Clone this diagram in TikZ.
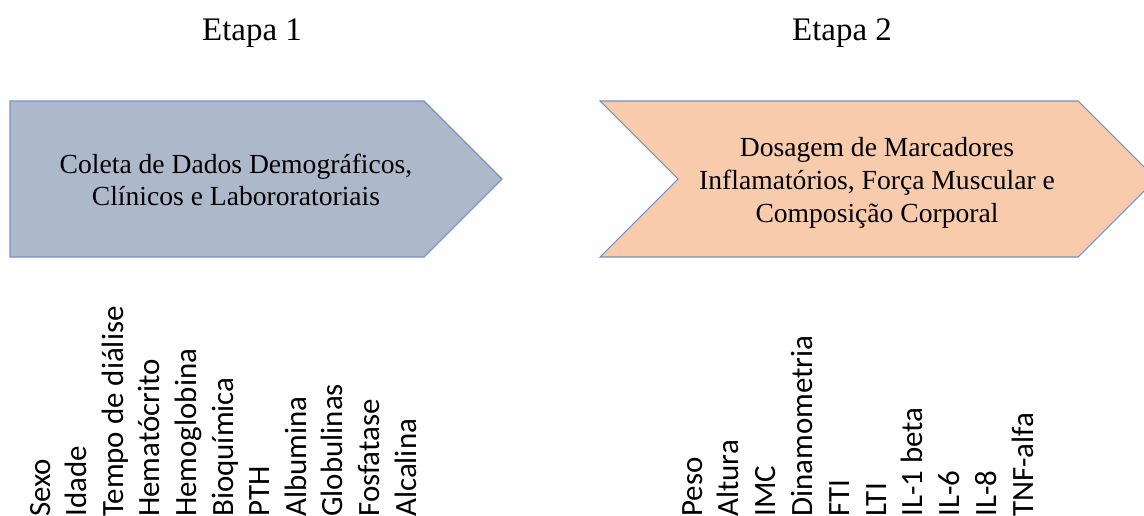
\documentclass[tikz,border=0pt]{standalone}
\usepackage{fontspec}
\setmainfont{Liberation Serif}
\newfontfamily\labelfont{Carlito}
\usetikzlibrary{positioning}

\definecolor{stepblue}{HTML}{ADB9CA}
\definecolor{steporange}{HTML}{F8CBAD}
\definecolor{stepedge}{HTML}{7391C4}

\newcommand{\Tip}{78}
\newcommand{\StepLeft}{36.6}
\newcommand{\StepRight}{36.8}

\begin{document}
\begin{tikzpicture}[
  x = 0.75pt, y = -0.75pt,
  chevron/.style={draw=stepedge, line width=0.8pt, line join=miter},
  title/.style={font=\fontsize{24.7}{28}\selectfont, anchor=base},
  boxtext/.style={font=\fontsize{20.7}{24.5}\selectfont, align=center},
  item/.style={font=\labelfont\fontsize{23.2}{26}\selectfont, rotate=90, anchor=base west, inner sep=0pt}
  ]
	\useasboundingbox (0,0) rectangle (1144,515);

	%titles of the two stages
	\node[title] (etapa1) at (252,40) {Etapa 1};
	\node[title] (etapa2) at (842,40) {Etapa 2};

	%draw the first step (pentagon)
	\draw[chevron, fill=stepblue] (10,101) -- (424,101) -- (424+\Tip,179) -- (424,257) -- (10,257) -- cycle;
	\node[boxtext] (coleta) at (236,180) {Coleta de Dados Demográficos,\\Clínicos e Labororatoriais};

	%draw the second step (chevron)
	\draw[chevron, fill=steporange] (600,101) -- (1078,101) -- (1078+\Tip,179) -- (1078,257) -- (600,257) -- (600+\Tip,179) -- cycle;
	\node[boxtext] (dosagem) at (877,183) {Dosagem de Marcadores\\Inflamatórios, Força Muscular e\\Composição Corporal};

	%variables of the first step
	\foreach \lbl [count=\i from 0] in {Sexo, Idade, Tempo de diálise, Hematócrito, Hemoglobina, Bioquímica, PTH, Albumina, Globulinas, Fosfatase, Alcalina}
		\node[item] (left\i) at ({50+\StepLeft*\i},517) {\lbl};

	%variables of the second step
	\foreach \lbl [count=\i from 0] in {Peso, Altura, IMC, Dinamometria, FTI, LTI, IL-1 beta, IL-6, IL-8, TNF-alfa}
		\node[item] (right\i) at ({702+\StepRight*\i},517) {\lbl};

\end{tikzpicture}
\end{document}
